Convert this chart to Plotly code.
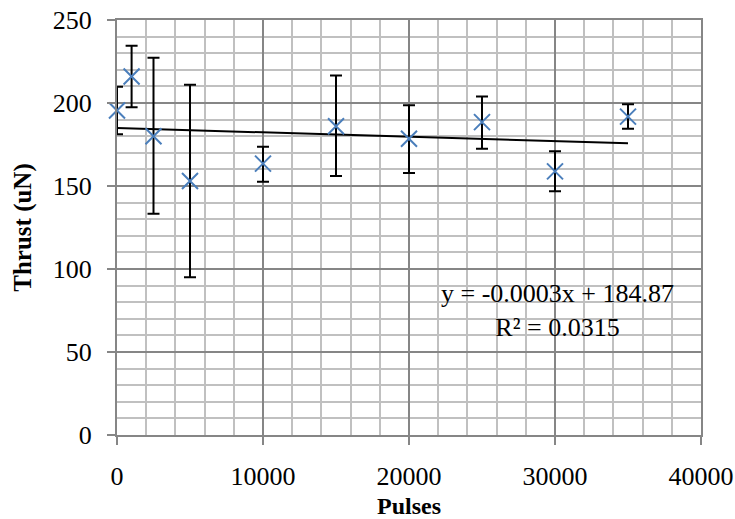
import numpy as np
import plotly.graph_objects as go

pulses = [0, 1000, 2500, 5000, 10000, 15000, 20000, 25000, 30000, 35000]
thrust = [195.5, 216, 180, 153, 163.5, 186, 178.5, 188.5, 158.8, 191.8]
err_plus = [14.3, 18.5, 47.3, 58, 10.2, 30.5, 20.2, 15.4, 12.1, 7.4]
err_minus = [14.3, 18.5, 46.7, 58, 10.9, 30, 20.6, 16, 12, 7.3]

x_ticks = [0, 10000, 20000, 30000, 40000]
y_ticks = [0, 50, 100, 150, 200, 250]

eq_text = "y = -0.0003x + 184.87<br>R² = 0.0315"

slope, intercept = np.polyfit(pulses, thrust, 1)
trend_x = [min(pulses), max(pulses)]
trend_y = [slope * v + intercept for v in trend_x]

FONT = "Liberation Serif, Times New Roman, serif"

fig = go.Figure()
fig.add_trace(go.Scatter(
    x=trend_x, y=trend_y, mode="lines",
    line=dict(color="black", width=2), showlegend=False, hoverinfo="skip"))
fig.add_trace(go.Scatter(
    x=pulses, y=thrust, mode="markers", cliponaxis=False,
    marker=dict(symbol="x-thin", size=16, line=dict(color="#4A7EBB", width=2), color="#4A7EBB"),
    error_y=dict(type="data", array=err_plus, arrayminus=err_minus, symmetric=False,
                 color="black", thickness=2, width=6),
    showlegend=False))

fig.add_annotation(x=30200, y=75, xref="x", yref="y", text=eq_text, showarrow=False,
                   align="center", font=dict(family=FONT, size=26, color="black"))

axis_common = dict(
    automargin=False,
    showline=True, linecolor="#868686", linewidth=2, mirror=True,
    showgrid=True, gridcolor="#868686", gridwidth=2,
    ticks="outside", ticklen=8, tickwidth=2, tickcolor="#868686",
    tickfont=dict(family=FONT, size=26, color="black"),
    ticklabeloverflow="allow",
    zeroline=False,
)

fig.update_xaxes(
    range=[0, 40000], tickvals=x_ticks, ticktext=[str(v) for v in x_ticks],
    minor=dict(dtick=2000, showgrid=True, gridcolor="#c0c0c0", gridwidth=2, ticks=""),
    title=dict(text="<b>Pulses</b>", font=dict(family=FONT, size=24, color="black"), standoff=7),
    ticklabelstandoff=9,
    **axis_common)
fig.update_yaxes(
    range=[0, 250], tickvals=y_ticks, ticktext=[str(v) for v in y_ticks],
    minor=dict(dtick=10, showgrid=True, gridcolor="#c0c0c0", gridwidth=2, ticks=""),
    title=dict(text="<b>Thrust (uN)</b>", font=dict(family=FONT, size=25, color="black"), standoff=14),
    ticklabelstandoff=10,
    **axis_common)

fig.update_layout(
    template="none",
    width=735, height=519,
    margin=dict(l=117, r=34, t=20, b=84, autoexpand=False),
    paper_bgcolor="white", plot_bgcolor="white",
    font=dict(family=FONT),
)

fig.write_html("out.html", config={"displayModeBar": False},
               post_script="document.body.style.margin='0';document.body.style.overflow='hidden';")
